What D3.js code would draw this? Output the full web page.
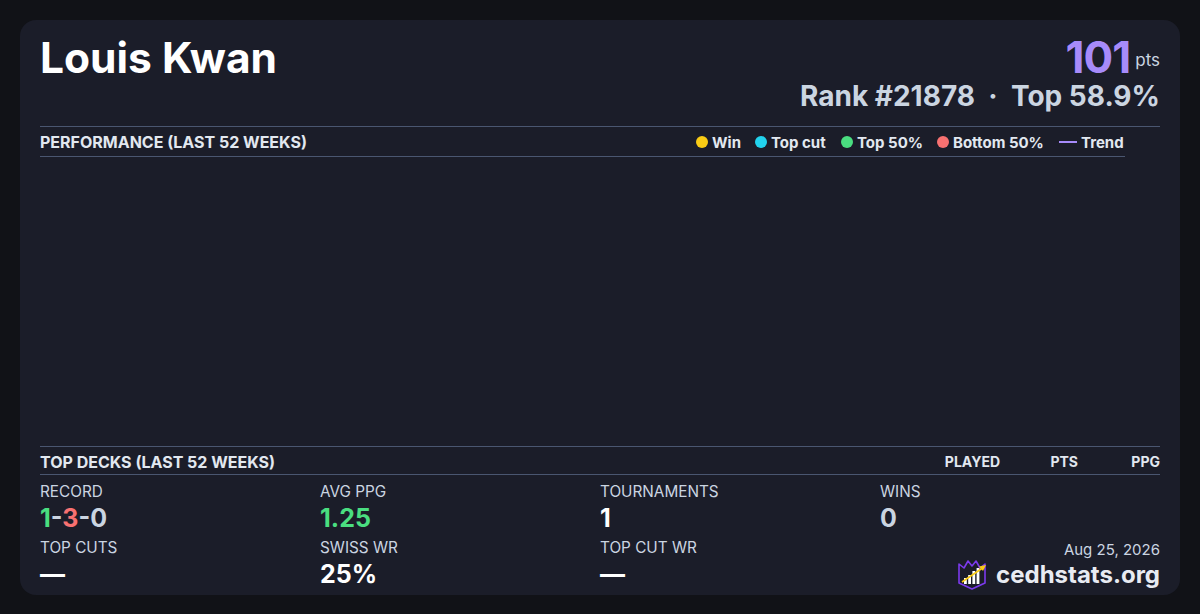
<!DOCTYPE html>
<html>
<head>
<meta charset="utf-8">
<script src="https://cdn.jsdelivr.net/npm/d3@7"></script>
<style>
  html, body { margin: 0; padding: 0; background: #111217; }
  svg { display: block; font-family: Inter, "Noto Sans", sans-serif; }
</style>
</head>
<body>
<svg id="card" width="1200" height="614"></svg>
<script>
// player header
const playerName = "Louis Kwan";
const points = 101;
const rank = 21878;
const topPct = 58.9;
const cardDate = "Aug 25, 2026";

// performance legend + (empty) weekly results
const legendLabels = ["Win", "Top cut", "Top 50%", "Bottom 50%", "Trend"];
const legendColors = ["#facc15", "#22d3ee", "#4ade80", "#f87171", "#a78bfa"];
const weeklyResults = []; // no events in the window

// top decks table
const deckColumns = ["PLAYED", "PTS", "PPG"];
const topDecks = [];

// stat blocks
const statLabels = ["RECORD", "AVG PPG", "TOURNAMENTS", "WINS", "TOP CUTS", "SWISS WR", "TOP CUT WR"];
const statValues = ["1-3-0", "1.25", "1", "0", "—", "25%", "—"];
const record = [1, 3, 0];

const svg = d3.select("#card");
const left = 40, right = 1160;

svg.append("rect")
    .attr("x", 20).attr("y", 20)
    .attr("width", 1160).attr("height", 575)
    .attr("rx", 16)
    .attr("fill", "#1b1d29");

// header
svg.append("text")
    .attr("x", left).attr("y", 73)
    .attr("fill", "#ffffff")
    .attr("font-size", 42.5).attr("font-weight", 700)
    .text(playerName);

const ptsText = svg.append("text")
    .attr("x", right).attr("y", 73)
    .attr("text-anchor", "end");
ptsText.append("tspan")
    .attr("fill", "#a78bfa").attr("font-size", 44).attr("font-weight", 700)
    .attr("letter-spacing", -1)
    .text(points);
ptsText.append("tspan")
    .attr("dx", 5)
    .attr("fill", "#cbd5e1").attr("font-size", 17)
    .attr("dy", -7)
    .text("pts");

svg.append("text")
    .attr("x", right).attr("y", 106)
    .attr("text-anchor", "end")
    .attr("fill", "#cbd5e1")
    .attr("font-size", 28).attr("font-weight", 700)
    .attr("xml:space", "preserve")
    .text(`Rank #${rank}  ·  Top ${topPct}%`);

// performance section
const lineColor = "#4a5670";
svg.append("line").attr("x1", left).attr("x2", right).attr("y1", 126.5).attr("y2", 126.5)
    .attr("stroke", lineColor);
svg.append("text")
    .attr("x", left).attr("y", 148)
    .attr("fill", "#e2e8f0").attr("font-size", 16).attr("font-weight", 700)
    .text("PERFORMANCE (LAST 52 WEEKS)");
svg.append("line").attr("x1", left).attr("x2", 1125).attr("y1", 156.5).attr("y2", 156.5)
    .attr("stroke", lineColor);

const legendX = [702, 761, 847, 943, 1059];
const legend = svg.append("g").selectAll("g")
    .data(legendLabels)
    .join("g")
    .attr("transform", (d, i) => `translate(${legendX[i]},142)`);
legend.each(function(d, i) {
    const g = d3.select(this);
    if (d === "Trend") {
        g.append("line").attr("x1", 0).attr("x2", 18).attr("y1", 0).attr("y2", 0)
            .attr("stroke", legendColors[i]).attr("stroke-width", 2);
    } else {
        g.append("circle").attr("r", 6).attr("fill", legendColors[i]);
    }
    g.append("text").attr("x", d === "Trend" ? 22 : 10).attr("y", 5.5)
        .attr("fill", "#e2e8f0").attr("font-size", 15).attr("font-weight", 700)
        .text(d);
});

// plot area (empty when no results)
const x = d3.scaleTime()
    .domain([new Date(2025, 7, 25), new Date(2026, 7, 25)])
    .range([left, 1125]);
const y = d3.scaleLinear().domain([0, 100]).range([430, 170]);
const colorFor = d3.scaleOrdinal().domain(legendLabels.slice(0, 4)).range(legendColors.slice(0, 4));
svg.append("g").selectAll("circle")
    .data(weeklyResults)
    .join("circle")
    .attr("cx", d => x(d.date))
    .attr("cy", d => y(d.pct))
    .attr("r", 5)
    .attr("fill", d => colorFor(d.result));

// top decks
svg.append("line").attr("x1", left).attr("x2", right).attr("y1", 446.5).attr("y2", 446.5)
    .attr("stroke", lineColor);
svg.append("text")
    .attr("x", left).attr("y", 468)
    .attr("fill", "#e2e8f0").attr("font-size", 16).attr("font-weight", 700)
    .text("TOP DECKS (LAST 52 WEEKS)");
const colRight = [1000, 1078, 1160];
svg.append("g").selectAll("text")
    .data(deckColumns)
    .join("text")
    .attr("x", (d, i) => colRight[i]).attr("y", 467)
    .attr("text-anchor", "end")
    .attr("fill", "#e2e8f0").attr("font-size", 14).attr("font-weight", 700)
    .text(d => d);
svg.append("line").attr("x1", left).attr("x2", right).attr("y1", 474.5).attr("y2", 474.5)
    .attr("stroke", lineColor);

// stats grid
const colX = [40, 320, 600, 880];
const rowY = [497, 553];
const valueColors = [null, "#4ade80", "#ffffff", "#cbd5e1", "#ffffff", "#ffffff", "#ffffff"];
statLabels.forEach((label, i) => {
    const cx = colX[i % 4], ry = rowY[Math.floor(i / 4)];
    svg.append("text")
        .attr("x", cx).attr("y", ry)
        .attr("fill", "#cbd5e1").attr("font-size", 15.3)
        .text(label);
    const v = svg.append("text")
        .attr("x", cx).attr("y", ry + 30)
        .attr("font-size", 25).attr("font-weight", 700);
    if (label === "RECORD") {
        const recColors = ["#4ade80", "#f87171", "#cbd5e1"];
        record.forEach((r, k) => {
            if (k > 0) v.append("tspan").attr("fill", "#cbd5e1").text("-");
            v.append("tspan").attr("fill", recColors[k]).text(r);
        });
    } else {
        v.attr("fill", valueColors[i]).text(statValues[i]);
    }
});

// footer
svg.append("text")
    .attr("x", right).attr("y", 555)
    .attr("text-anchor", "end")
    .attr("fill", "#cbd5e1").attr("font-size", 15)
    .text(cardDate);
svg.append("text")
    .attr("x", right).attr("y", 583)
    .attr("text-anchor", "end")
    .attr("fill", "#e8ebf2").attr("font-size", 24).attr("font-weight", 700)
    .text("cedhstats.org");

// little logo
const logo = svg.append("g").attr("transform", "translate(957,558)");
logo.append("path")
    .attr("d", "M2,6 L7,10 L11,3 L15,8 L19,3 L23,10 L28,6 L28,25 L15,31 L2,25 Z")
    .attr("fill", "#1b1d29").attr("stroke", "#7c3aed").attr("stroke-width", 1.6)
    .attr("stroke-linejoin", "round");
const bars = [6, 9, 13, 16];
logo.append("g").selectAll("rect")
    .data(bars)
    .join("rect")
    .attr("x", (d, i) => 7 + i * 4.2)
    .attr("y", d => 26 - d)
    .attr("width", 2.8)
    .attr("height", d => d)
    .attr("fill", "#ffffff");
logo.append("line")
    .attr("x1", 5).attr("y1", 24).attr("x2", 27).attr("y2", 9)
    .attr("stroke", "#facc15").attr("stroke-width", 1.6);
logo.append("path")
    .attr("d", "M29,7 L22,8.5 L26,13 Z")
    .attr("fill", "#facc15");
</script>
</body>
</html>
